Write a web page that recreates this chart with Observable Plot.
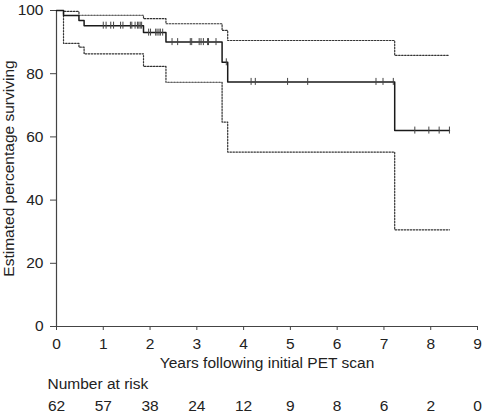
<!DOCTYPE html>
<html>
<head>
<meta charset="utf-8">
<script src="https://cdn.jsdelivr.net/npm/d3@7"></script>
<script src="https://cdn.jsdelivr.net/npm/@observablehq/plot@0.6"></script>
<style>
  html, body { margin: 0; padding: 0; background: #fff; }
</style>
</head>
<body>
<div id="chart"></div>
<script>
// Kaplan-Meier estimate (step times and survival %)
const stepTimes = [0, 0.15, 0.48, 0.59, 1.86, 2.34, 3.54, 3.66, 7.23, 8.40];
const survival  = [100, 98.4, 96.8, 95.2, 93.0, 90.0, 83.6, 77.4, 62.0, 62.0];
const upperCI   = [100, 99.7, 98.5, 98.5, 97.4, 95.8, 93.7, 90.5, 85.8, 85.8];
const lowerCI   = [100, 89.6, 88.4, 86.3, 82.3, 77.3, 64.7, 55.2, 30.6, 30.6];

// Censored observations
const censorTimes = [1.00, 1.06, 1.16, 1.22, 1.37, 1.42, 1.58, 1.61, 1.68, 1.73, 1.76, 1.79, 1.82,
                     1.97, 2.01, 2.12, 2.15, 2.19, 2.22, 2.27,
                     2.47, 2.59, 2.86, 2.89, 3.05, 3.09, 3.14, 3.23, 3.25, 3.41,
                     3.63,
                     4.16, 4.25, 4.94, 5.37, 6.83, 6.98, 7.20,
                     7.66, 7.96, 8.18, 8.40];
const censorSurv  = [95.2, 95.2, 95.2, 95.2, 95.2, 95.2, 95.2, 95.2, 95.2, 95.2, 95.2, 95.2, 95.2,
                     93.0, 93.0, 93.0, 93.0, 93.0, 93.0, 93.0,
                     90.0, 90.0, 90.0, 90.0, 90.0, 90.0, 90.0, 90.0, 90.0, 90.0,
                     83.6,
                     77.4, 77.4, 77.4, 77.4, 77.4, 77.4, 77.4,
                     62.0, 62.0, 62.0, 62.0];

const xTicks = [0, 1, 2, 3, 4, 5, 6, 7, 8, 9];
const yTicks = [0, 20, 40, 60, 80, 100];
const atRisk = [62, 57, 38, 24, 12, 9, 8, 6, 2, 0];

const xLabel = "Years following initial PET scan";
const yLabel = "Estimated percentage surviving";
const riskLabel = "Number at risk";

const km = stepTimes.map((t, i) => ({t, s: survival[i], u: upperCI[i], l: lowerCI[i]}));
const censors = censorTimes.map((t, i) => ({t, s: censorSurv[i]}));

const chart = Plot.plot({
  width: 484,
  height: 414,
  marginLeft: 56,
  marginRight: 7,
  marginTop: 10,
  marginBottom: 88,
  style: {fontFamily: "'Liberation Sans', Arial, sans-serif", fontSize: "15.5px", color: "#222", background: "#fff"},
  x: {domain: [0, 9]},
  y: {domain: [0, 100]},
  marks: [
    Plot.axisY({ticks: yTicks, tickSize: 6, tickPadding: 7, label: null, stroke: "#444"}),
    Plot.axisX({ticks: xTicks, tickSize: 4, tickPadding: 7, label: null, stroke: "#444"}),
    Plot.axisX({ticks: xTicks, tickSize: 0, tickPadding: 73, label: null,
                tickFormat: d => String(atRisk[xTicks.indexOf(d)])}),
    Plot.ruleX([0], {stroke: "#444", strokeWidth: 1.2}),
    Plot.ruleY([0], {stroke: "#444", strokeWidth: 1.2}),
    Plot.line(km, {x: "t", y: "u", curve: "step-after", stroke: "#333", strokeWidth: 1.2, strokeDasharray: "1.5,1.5"}),
    Plot.line(km, {x: "t", y: "l", curve: "step-after", stroke: "#333", strokeWidth: 1.2, strokeDasharray: "1.5,1.5"}),
    Plot.line(km, {x: "t", y: "s", curve: "step-after", stroke: "#1a1a1a", strokeWidth: 1.5}),
    Plot.ruleX(censors, {x: "t", y1: "s", y2: "s", insetTop: -3.5, insetBottom: -3.5, stroke: "#444", strokeWidth: 1}),
    Plot.text([xLabel], {frameAnchor: "bottom", dy: 41, lineAnchor: "bottom", fill: "#222"}),
    Plot.text([riskLabel], {frameAnchor: "bottom-left", textAnchor: "start", dx: -9, dy: 62, lineAnchor: "bottom", fill: "#222"}),
    Plot.text([yLabel], {frameAnchor: "left", textAnchor: "middle", rotate: -90, dx: -43, lineAnchor: "bottom", fill: "#222"})
  ]
});
document.getElementById("chart").appendChild(chart);
</script>
</body>
</html>
